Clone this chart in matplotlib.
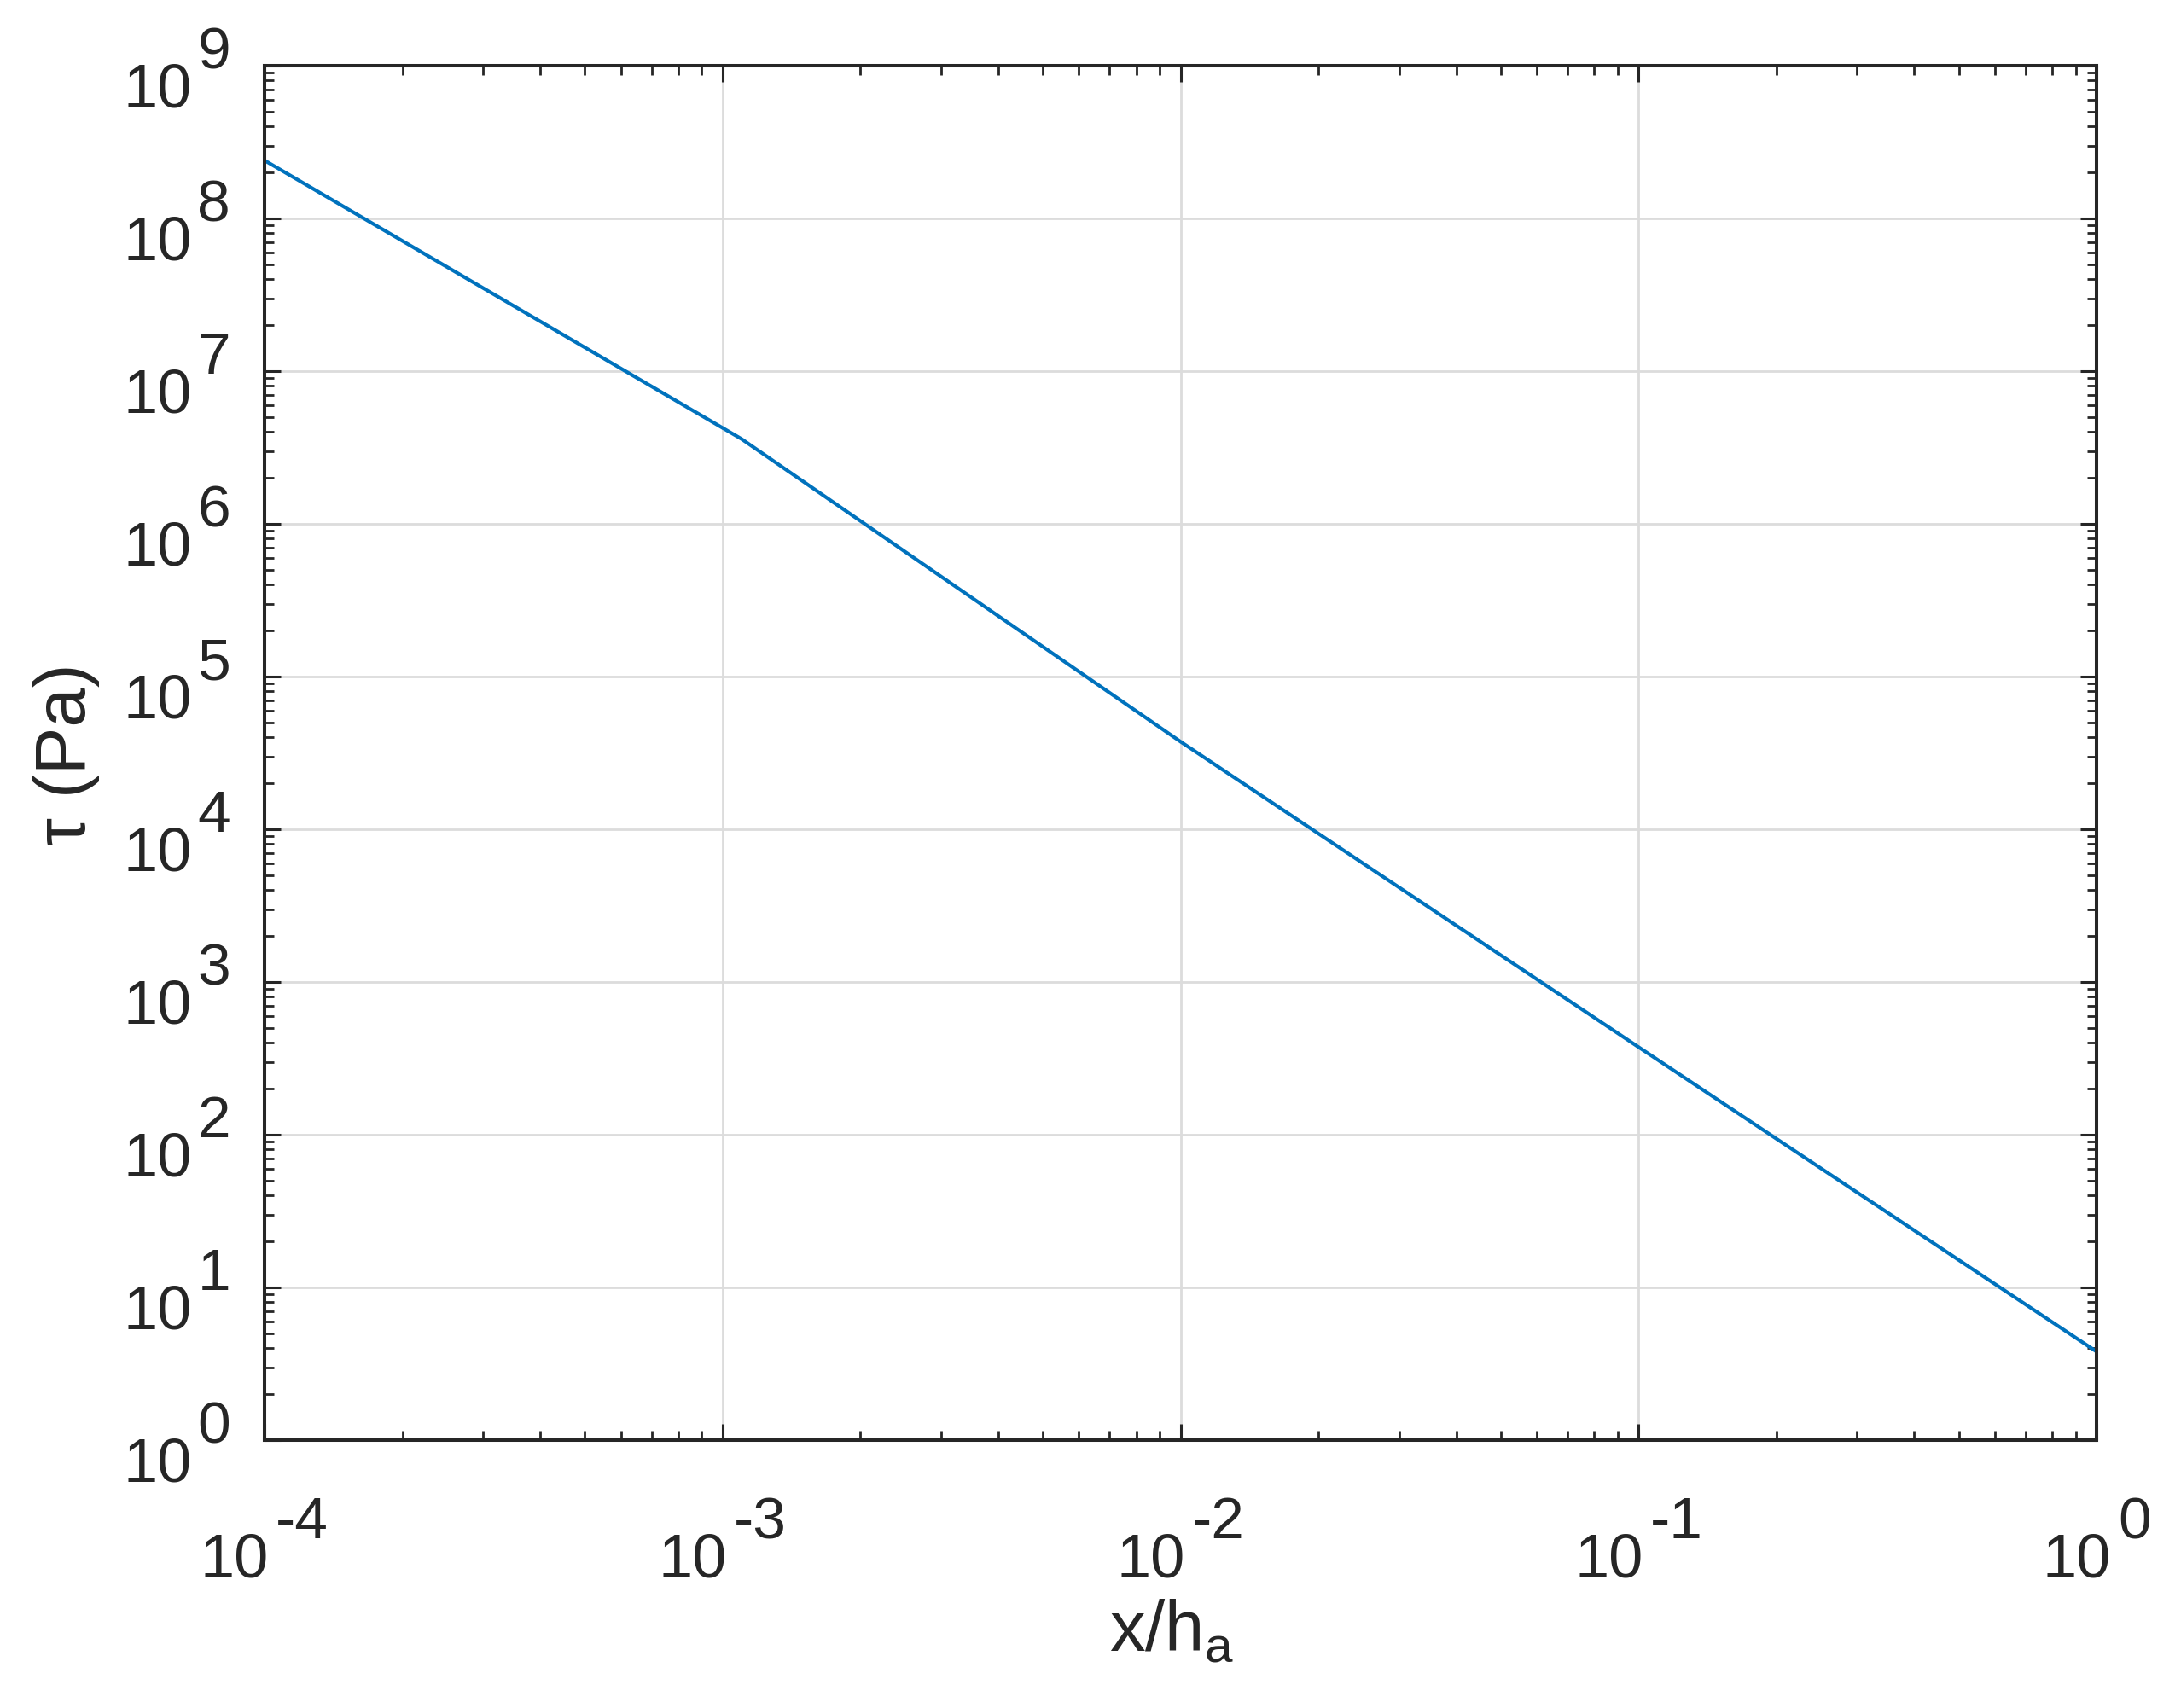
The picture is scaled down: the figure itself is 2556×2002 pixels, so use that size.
import numpy as np
import matplotlib
matplotlib.use("Agg")
import matplotlib.pyplot as plt
from matplotlib.ticker import LogLocator, NullFormatter

plt.rcParams['font.family'] = ['Liberation Sans', 'DejaVu Sans']
plt.rcParams['mathtext.fontset'] = 'custom'
plt.rcParams['mathtext.rm'] = 'Liberation Sans'
plt.rcParams['mathtext.it'] = 'Liberation Sans:italic'

# values (x/h_a, tau in Pa)
x_vals = [1e-4, 1.1e-3, 1e-2, 1e-1, 1.0]
tau_vals = [2.4e8, 3.6e6, 3.75e4, 3.75e2, 3.8]

x_ticks = [1e-4, 1e-3, 1e-2, 1e-1, 1e0]
x_exps = ['-4', '-3', '-2', '-1', '0']
y_ticks = [10.0 ** k for k in range(10)]
y_exps = [str(k) for k in range(10)]

DPI = 200
TXT = '#262626'
fig = plt.figure(figsize=(12.78, 10.01), dpi=DPI)
ax = fig.add_axes([0.1213, 0.1568, 0.8400, 0.8047])

ax.loglog(x_vals, tau_vals, color='#0072BD', lw=1.5)

ax.set_xlim(1e-4, 1)
ax.set_ylim(1e0, 1e9)

ax.set_xticks(x_ticks)
ax.set_yticks(y_ticks)
ax.xaxis.set_minor_locator(LogLocator(base=10, subs=np.arange(2, 10), numticks=12))
ax.yaxis.set_minor_locator(LogLocator(base=10, subs=np.arange(2, 10), numticks=12))
ax.xaxis.set_major_formatter(NullFormatter())
ax.yaxis.set_major_formatter(NullFormatter())
ax.xaxis.set_minor_formatter(NullFormatter())
ax.yaxis.set_minor_formatter(NullFormatter())

ax.grid(True, which='major', color='#dcdcdc', lw=1.0)
ax.set_axisbelow(True)

ax.tick_params(which='both', direction='in', top=True, right=True, color=TXT)
ax.tick_params(which='major', length=7, width=1.1)
ax.tick_params(which='minor', length=4, width=1.0)

for s in ax.spines.values():
    s.set_color(TXT)
    s.set_linewidth(1.45)

# MATLAB-style tick labels: "10" with a nearly full-size exponent
fs_base = 26
fs_exp = 25
px = 72.0 / DPI  # pixels -> points

# y labels
for yv, e in zip(y_ticks, y_exps):
    ax.annotate('10', xy=(0, yv), xycoords=ax.get_yaxis_transform(),
                xytext=(-85 * px, -48 * px), textcoords='offset points',
                ha='right', va='baseline', fontsize=fs_base, color=TXT,
                annotation_clip=False)
    ax.annotate(e, xy=(0, yv), xycoords=ax.get_yaxis_transform(),
                xytext=(-40 * px, -3 * px), textcoords='offset points',
                ha='right', va='baseline', fontsize=fs_exp, color=TXT,
                annotation_clip=False)

# x labels, centred as a whole under the tick
fig.canvas.draw()
r = fig.canvas.get_renderer()
gap = 8
for xv, e in zip(x_ticks, x_exps):
    t10 = ax.annotate('10', xy=(xv, 0), xycoords=ax.get_xaxis_transform(),
                      xytext=(0, -160 * px), textcoords='offset points',
                      ha='left', va='baseline', fontsize=fs_base, color=TXT,
                      annotation_clip=False)
    te = ax.annotate(e, xy=(xv, 0), xycoords=ax.get_xaxis_transform(),
                     xytext=(0, -115 * px), textcoords='offset points',
                     ha='left', va='baseline', fontsize=fs_exp, color=TXT,
                     annotation_clip=False)
    w10 = t10.get_window_extent(r).width
    we = te.get_window_extent(r).width
    start = -(w10 + gap + we) / 2
    t10.set_position((start * px, -160 * px))
    te.set_position(((start + w10 + gap) * px, -115 * px))

fig.text(78 / 2556, 1 - 884 / 2002, 'τ (Pa)', rotation=90, ha='center',
         va='center', fontsize=30, color=TXT)
fig.text(1373 / 2556, 1 - 1935 / 2002, r'x/h$_\mathrm{a}$', ha='center',
         va='baseline', fontsize=30, color=TXT)

fig.savefig('out.png', dpi=DPI, facecolor='white')
